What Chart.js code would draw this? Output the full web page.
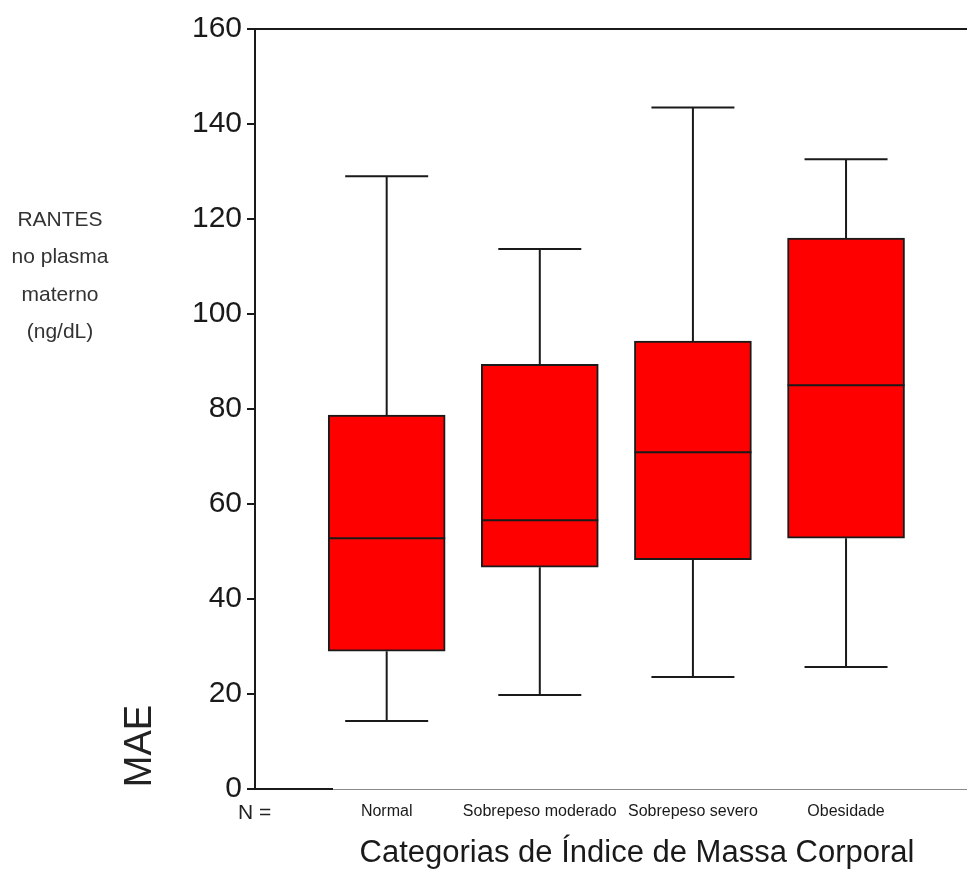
<!DOCTYPE html>
<html>
<head>
<meta charset="utf-8">
<title>RANTES por IMC</title>
<script src="https://cdn.jsdelivr.net/npm/chart.js@4"></script>
<style>
  body { margin: 0; background: #fff; }
  canvas { display: block; }
</style>
</head>
<body>
<canvas id="boxplot" width="967" height="884"></canvas>
<script>
const categorias = ["Normal", "Sobrepeso moderado", "Sobrepeso severo", "Obesidade"];
const minimos = [14.3, 19.8, 23.6, 25.7];
const q1 = [29, 46.7, 48.3, 52.8];
const medianas = [52.8, 56.6, 70.9, 85];
const q3 = [78.7, 89.4, 94.3, 116];
const maximos = [129, 113.7, 143.5, 132.6];
const yTicks = [0, 20, 40, 60, 80, 100, 120, 140, 160];

const FONT = "'Liberation Sans', Arial, sans-serif";

// whiskers, medians and frame lines drawn on top of the boxes
const boxExtras = {
  id: "boxExtras",
  afterDatasetsDraw(chart) {
    const { ctx, chartArea } = chart;
    const x = chart.scales.x;
    const y = chart.scales.y;
    const boxW = 117;
    const capW = 83;
    ctx.save();
    ctx.strokeStyle = "#1a1a1a";
    ctx.lineWidth = 2;
    categorias.forEach((c, i) => {
      const cx = x.getPixelForValue(i + 1);
      ctx.beginPath();
      // upper whisker
      ctx.moveTo(cx, y.getPixelForValue(q3[i]));
      ctx.lineTo(cx, y.getPixelForValue(maximos[i]));
      ctx.moveTo(cx - capW / 2, y.getPixelForValue(maximos[i]));
      ctx.lineTo(cx + capW / 2, y.getPixelForValue(maximos[i]));
      // lower whisker
      ctx.moveTo(cx, y.getPixelForValue(q1[i]));
      ctx.lineTo(cx, y.getPixelForValue(minimos[i]));
      ctx.moveTo(cx - capW / 2, y.getPixelForValue(minimos[i]));
      ctx.lineTo(cx + capW / 2, y.getPixelForValue(minimos[i]));
      // median
      ctx.moveTo(cx - boxW / 2, y.getPixelForValue(medianas[i]));
      ctx.lineTo(cx + boxW / 2, y.getPixelForValue(medianas[i]));
      ctx.stroke();
    });

    // top frame line
    const yTop = y.getPixelForValue(160);
    ctx.beginPath();
    ctx.moveTo(chartArea.left - 8, yTop);
    ctx.lineTo(chartArea.right, yTop);
    ctx.stroke();

    // bottom line: thin grey, heavy stub near the axis
    const yBot = y.getPixelForValue(0);
    ctx.strokeStyle = "#8a8a8a";
    ctx.lineWidth = 1;
    ctx.beginPath();
    ctx.moveTo(chartArea.left, yBot + 0.5);
    ctx.lineTo(chartArea.right, yBot + 0.5);
    ctx.stroke();
    ctx.strokeStyle = "#1a1a1a";
    ctx.lineWidth = 2;
    ctx.beginPath();
    ctx.moveTo(chartArea.left - 8, yBot);
    ctx.lineTo(chartArea.left + 78, yBot);
    ctx.stroke();
    ctx.restore();
  }
};

// free text around the plot
const labelsText = {
  id: "labelsText",
  afterDraw(chart) {
    const { ctx } = chart;
    ctx.save();
    ctx.textAlign = "center";
    ctx.textBaseline = "middle";

    ctx.fillStyle = "#333";
    ctx.font = "21px " + FONT;
    ["RANTES", "no plasma", "materno", "(ng/dL)"].forEach((t, i) => {
      ctx.fillText(t, 60, 220 + i * 37.5);
    });

    ctx.fillStyle = "#1a1a1a";
    ctx.font = "31px " + FONT;
    ctx.fillText("Categorias de \u00cdndice de Massa Corporal", 637, 853);

    ctx.textAlign = "left";
    ctx.fillStyle = "#222";
    ctx.font = "21px " + FONT;
    ctx.fillText("N =", 238, 813);

    ctx.translate(141, 746);
    ctx.rotate(-Math.PI / 2);
    ctx.textAlign = "center";
    ctx.font = "38px " + FONT;
    ctx.fillText("MAE", 0, 0);
    ctx.restore();
  }
};

const ctx = document.getElementById("boxplot").getContext("2d");
const boxplot = new Chart(ctx, {
  type: "bar",
  data: {
    datasets: [
      {
        label: "RANTES",
        data: categorias.map((c, i) => ({ x: i + 1, y: [q1[i], q3[i]] })),
        backgroundColor: "#ff0000",
        borderColor: "#1a1a1a",
        borderWidth: 2,
        borderSkipped: false,
        barThickness: 117,
      },
    ],
  },
  options: {
    responsive: false,
    animation: false,
    layout: { padding: { top: 29, right: 0, bottom: 0, left: 0 } },
    plugins: {
      legend: { display: false },
      tooltip: { enabled: false },
    },
    scales: {
      x: {
        type: "linear",
        offset: false,
        min: 0.14,
        max: 4.79,
        grid: { display: false, offset: false },
        border: { display: false },
        afterBuildTicks(scale) {
          scale.ticks = categorias.map((c, i) => ({ value: i + 1 }));
        },
        afterFit(scale) {
          scale.height = 95;
        },
        ticks: {
          autoSkip: false,
          maxRotation: 0,
          padding: 5,
          color: "#1a1a1a",
          font: { family: FONT, size: 16 },
          callback: (v) => categorias[v - 1],
        },
      },
      y: {
        min: 0,
        max: 160,
        afterBuildTicks(scale) {
          scale.ticks = yTicks.map((v) => ({ value: v }));
        },
        afterFit(scale) {
          scale.width = 255;
        },
        grid: {
          drawOnChartArea: false,
          drawTicks: true,
          tickLength: 8,
          color: "#1a1a1a",
          lineWidth: 2,
        },
        border: { display: true, color: "#1a1a1a", width: 2 },
        ticks: {
          padding: 5,
          color: "#1a1a1a",
          font: { family: FONT, size: 30 },
        },
      },
    },
  },
  plugins: [boxExtras, labelsText],
});
</script>
</body>
</html>
